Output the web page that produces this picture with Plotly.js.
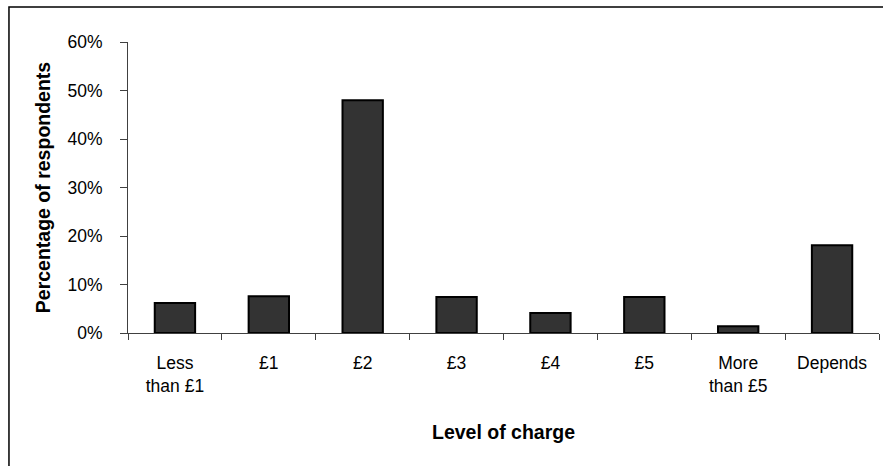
<!DOCTYPE html>
<html><head><meta charset="utf-8">
<script src="https://cdn.plot.ly/plotly-3.0.1.min.js"></script>
<style>html,body{margin:0;padding:0;background:#fff}#chart{width:883px;height:466px}</style>
</head><body><div id="chart"></div>
<script>
const categories = ["Less<br>than £1", "£1", "£2", "£3", "£4", "£5", "More<br>than £5", "Depends"];
const percentages = [0.062, 0.076, 0.48, 0.074, 0.041, 0.074, 0.014, 0.181];
const yTickValues = [0, 0.1, 0.2, 0.3, 0.4, 0.5, 0.6];
const yTickLabels = ["0%", "10%", "20%", "30%", "40%", "50%", "60%"];

const font = "Liberation Sans, Arial, sans-serif";
Plotly.newPlot("chart", [{
  type: "bar",
  x: categories,
  y: percentages,
  marker: {color: "#333333", line: {color: "#000000", width: 2}},
  hoverinfo: "none"
}], {
  width: 883, height: 466,
  margin: {l: 128, r: 4, t: 42, b: 133},
  paper_bgcolor: "#ffffff", plot_bgcolor: "#ffffff",
  bargap: 0.57,
  showlegend: false,
  font: {family: font, size: 17.5, color: "#000"},
  xaxis: {
    type: "category",
    showline: true, linecolor: "#404040", linewidth: 1,
    ticks: "outside", ticklen: 6, tickcolor: "#404040", tickson: "boundaries",
    ticklabelstandoff: 14,
    showgrid: false, zeroline: false,
    tickfont: {family: font, size: 17.5},
    title: {text: "<b>Level of charge</b>", font: {family: font, size: 19.5}, standoff: 30}
  },
  yaxis: {
    range: [0, 0.6],
    tickvals: yTickValues, ticktext: yTickLabels,
    showline: true, linecolor: "#404040", linewidth: 1,
    ticks: "outside", ticklen: 7, tickcolor: "#404040",
    ticklabelstandoff: 14,
    showgrid: false, zeroline: false,
    tickfont: {family: font, size: 17.5},
    title: {text: "<b>Percentage of respondents</b>", font: {family: font, size: 19.5}, standoff: 11}
  },
  shapes: [{
    type: "rect", xref: "paper", yref: "paper",
    x0: -0.1585, x1: 1.2, y0: -0.8, y1: 1.1203,
    line: {color: "#000", width: 1.5}, fillcolor: "rgba(0,0,0,0)"
  }]
}, {staticPlot: true});
</script></body></html>
